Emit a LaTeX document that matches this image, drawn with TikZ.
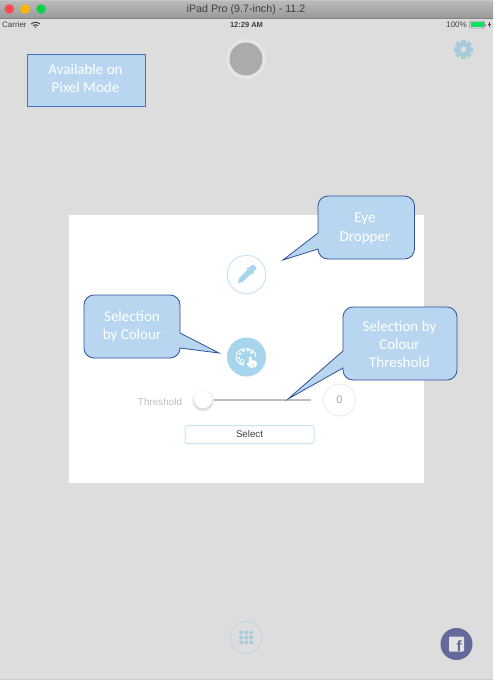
\documentclass[tikz,border=0pt]{standalone}
\usepackage{fontspec}
\setmainfont{Liberation Sans}
\newfontfamily\calfont{Carlito}
\definecolor{bgc}{HTML}{DDDDDD}
\definecolor{calloutfill}{HTML}{B9D6F0}
\definecolor{calloutedge}{HTML}{2F5397}
\definecolor{availedge}{HTML}{4472C4}
\definecolor{iconblue}{HTML}{A6D5EC}
\definecolor{iconring}{HTML}{C6E6F6}
\definecolor{mutedblue}{HTML}{A9CADD}
\definecolor{fbc}{HTML}{64699A}
\definecolor{lightred}{HTML}{FC4A50}
\definecolor{lightamber}{HTML}{FDB500}
\definecolor{lightgreen}{HTML}{0CD148}
\definecolor{battgreen}{HTML}{0BE060}
\tikzset{
  x=1pt,y=-1pt,
  callout/.style={draw=calloutedge,fill=calloutfill,line width=0.8pt,line join=miter},
  callouttext/.style={text=white,align=center,font=\calfont\fontsize{15}{18.3}\selectfont,inner sep=0pt},
  uitext/.style={inner sep=0pt,font=\fontsize{8}{9}\selectfont,text=black!75},
  ring/.style={draw=iconring,line width=1pt,fill=white},
  lightbtn/.style={circle,minimum size=9.5pt,inner sep=0pt},
}
\begin{document}
\begin{tikzpicture}
\useasboundingbox (0,0) rectangle (493,680);
% backdrop
\fill[bgc] (0,0) rectangle (493,680);
\fill[black!20] (0,679) rectangle (493,680);
% title bar
\shade[top color=black!27,bottom color=black!40] (0,1) rectangle (493,18);
\fill[black!22] (0,0) rectangle (493,1);
\fill[black!48] (0,17.6) rectangle (493,18.2);
\node[lightbtn,fill=lightred] (closebtn) at (9.3,9) {};
\node[lightbtn,fill=lightamber] (minbtn) at (25,9) {};
\node[lightbtn,fill=lightgreen] (maxbtn) at (41,9) {};
\node[inner sep=0pt,font=\fontsize{10.7}{13}\selectfont,text=black!75] (title) at (246,10) {iPad Pro (9.7-inch) - 11.2};
% status bar
\node[uitext,anchor=west] (carrier) at (2,24.5) {Carrier};
\draw[black!75,line width=1pt] (31,24) .. controls (34,21.8) and (37,21.8) .. (40,24);
\draw[black!75,line width=1pt] (33,25.6) .. controls (34.5,24.4) and (36.5,24.4) .. (38,25.6);
\fill[black!75] (35.5,28) -- (34.2,26.6) -- (36.8,26.6) -- cycle;
\node[uitext,font=\bfseries\fontsize{7.5}{9}\selectfont] (clock) at (246.5,24.5) {12:29 AM};
\node[uitext,anchor=east] (batt) at (467,24.5) {100\%};
\draw[black!45,line width=0.5pt,rounded corners=1pt] (469.5,21) rectangle (484.5,28);
\fill[battgreen] (470.5,22) rectangle (483.5,27);
\fill[black!45] (485,23.5) rectangle (486,25.5);
\fill[black!75] (490,21.5) -- (488,25) -- (489.3,25) -- (489,27.5) -- (491,24) -- (489.8,24) -- cycle;
% top grey button
\node[circle,fill=black!10,minimum size=40pt,inner sep=0pt] (recordouter) at (246,59) {};
\node[circle,fill=black!33,minimum size=33pt,inner sep=0pt] (recordinner) at (246,59) {};
% gear
\begin{scope}[shift={(463.5,49.5)}]
  \foreach \a in {0,45,...,315}{
    \fill[mutedblue,rotate=\a] (-2.2,-9.6) rectangle (2.2,-5);
  }
  \fill[mutedblue,even odd rule] (0,0) circle[radius=7] (0,0) circle[radius=3];
\end{scope}
% available box
\node[draw=availedge,fill=calloutfill,line width=0.8pt,minimum width=118pt,minimum height=51.5pt,inner sep=0pt,callouttext] (avail) at (86.5,80.3) {};
\node[callouttext] (availtext) at (85.5,78.3) {Available on\\Pixel Mode};
% white panel
\fill[white] (68.5,214.5) rectangle (424,483);
% dropper
\node[circle,ring,minimum size=38.5pt,inner sep=0pt] (dropper) at (246.5,274.5) {};
\begin{scope}[shift={(246.5,274.5)},rotate=-45]
  \fill[iconblue,rounded corners=1.5pt] (-3,-12) rectangle (3,-5);
  \fill[iconblue,rounded corners=1pt] (-4.6,-6.5) rectangle (4.6,-4.4);
  \fill[iconblue] (-2.8,-4.6) -- (2.8,-4.6) -- (2.6,8) -- (0,12) -- (-2.6,8) -- cycle;
\end{scope}
% palette
\node[circle,fill=iconblue,minimum size=39pt,inner sep=0pt] (palette) at (246.5,357) {};
\begin{scope}[shift={(246.5,357)}]
  \draw[white,line width=1pt] (3,7.8) .. controls (-2,10.5) and (-11.5,6) .. (-10.5,-1) .. controls (-9.5,-9) and (3,-11) .. (8.5,-4) .. controls (9.5,-2.5) and (9.5,-1) .. (8.5,0);
  \foreach \p/\r in {-6.5/-3.2,-3/-6.2,1.5/-6.8,5/-4.5,-7.5/1}{
    \fill[white] (\p,\r) circle[radius=1.5];
  }
  \draw[white,line width=0.8pt] (-4.5,4.5) circle[radius=2];
  \fill[iconblue] (4.8,8) circle[radius=7];
  \fill[white,rounded corners=1.2pt] (2.5,-0.5) -- (5,-0.5) -- (5,3) -- (10,4) -- (10,10) -- (3.5,11) -- (-0.5,6) -- (2.5,6) -- cycle;
  \fill[iconblue] (4.3,7) rectangle (4.9,9.5) (6.6,7) rectangle (7.2,9.5);
\end{scope}
% slider
\node[inner sep=0pt,font=\fontsize{9.9}{11}\selectfont,text=black!25] (thlabel) at (160,401.5) {Threshold};
\node[circle,inner sep=0pt,minimum size=32pt,draw=black!7,line width=1pt,fill=white,font=\fontsize{11}{12}\selectfont,text=black!35] (zero) at (339.5,400) {0};
\coordinate (sliderend) at (310.5,399.8);
\coordinate (sliderstart) at (203,399.8);
\draw[black!25,line width=1.5pt] (sliderstart) -- (sliderend);
\node[circle,fill=black!5,minimum size=22pt,inner sep=0pt] (knobhalo) at (203,401) {};
\node[circle,fill=black!14,minimum size=19.5pt,inner sep=0pt] (knobshadow) at (203,400.8) {};
\node[circle,fill=white,minimum size=18pt,inner sep=0pt] (knob) at (203,399.3) {};
\node[draw=iconring,line width=1pt,rounded corners=1.5pt,minimum width=129pt,minimum height=18pt,inner sep=0pt,font=\fontsize{9.7}{11}\selectfont,text=black!75] (select) at (249.5,434.5) {Select};
% bottom buttons
\node[circle,draw=mutedblue!80,line width=0.8pt,minimum size=32pt,inner sep=0pt] (grid) at (246.2,637.5) {};
\foreach \i in {-1,0,1}{\foreach \j in {-1,0,1}{
  \fill[mutedblue] (246.2+\i*5,637.5+\j*5) circle[radius=2];
}}
\node[circle,fill=fbc,minimum size=32pt,inner sep=0pt] (fb) at (456.5,644) {};
\fill[bgc!85!white,rounded corners=1pt] (449,636.5) rectangle (464,651.5);
\node[inner sep=0pt,font=\bfseries\fontsize{15}{15}\selectfont,text=fbc,anchor=base] (fbf) at (459,651.5) {f};
% callouts
\draw[callout] (318,233) [rounded corners=10pt] -- (318,196) -- (414.5,196) -- (414.5,259) -- (318,259) [sharp corners] -- (318,249) -- (283,260) -- cycle;
\node[callouttext] (eyetext) at (365,228.5) {Eye\\Dropper};
\draw[callout] (180,333) [rounded corners=10pt] -- (180,295) -- (84,295) -- (84,358) -- (180,358) [sharp corners] -- (180,348) -- (219,353) -- cycle;
\node[callouttext] (coltext) at (132,326.5) {Selection\\by Colour};
\draw[callout] (343,351) [rounded corners=10pt] -- (343,307) -- (457,307) -- (457,380) -- (343,380) [sharp corners] -- (343,368) -- (288,399) -- cycle;
\node[callouttext] (thtext) at (399.5,344.5) {Selection by\\Colour\\Threshold};
\end{tikzpicture}
\end{document}
